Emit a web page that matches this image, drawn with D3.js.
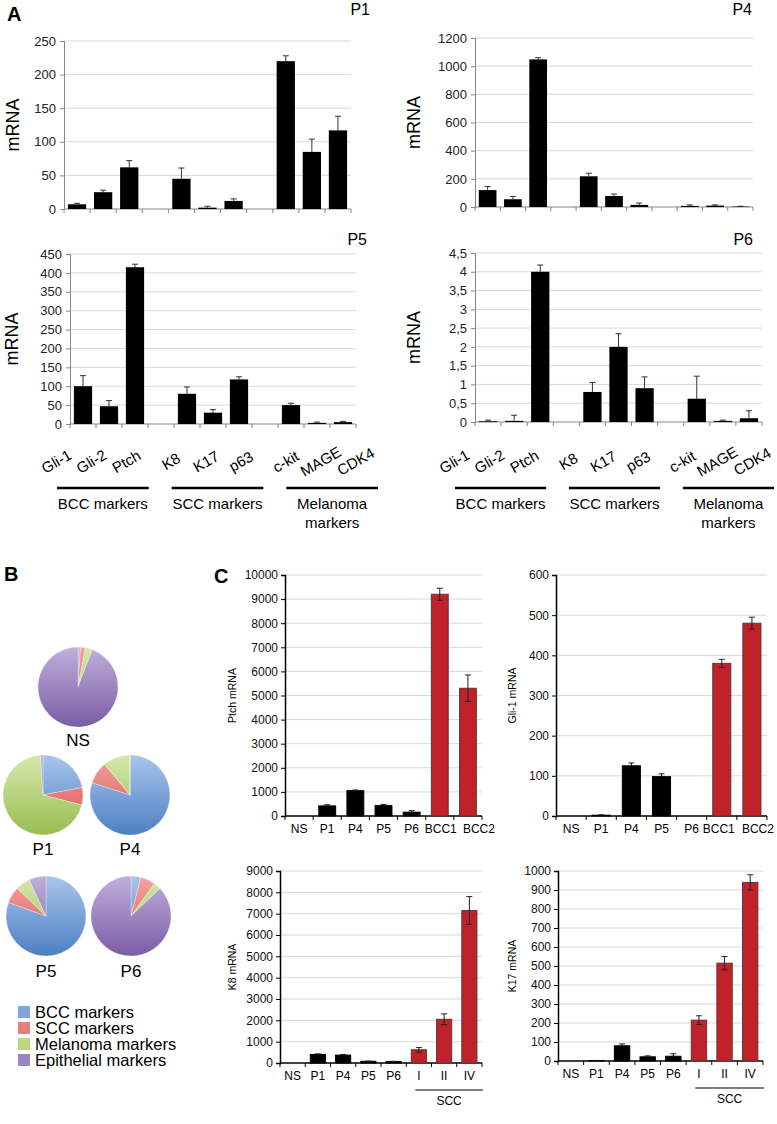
<!DOCTYPE html>
<html><head><meta charset="utf-8">
<script src="https://cdn.jsdelivr.net/npm/d3@7"></script>
<style>body{margin:0;background:#fff} svg{display:block;font-family:"Liberation Sans",Arial,sans-serif}</style>
</head><body><svg id="c" width="777" height="1124"></svg>
<script>
// ---------- DATA ----------
// Panel A
const slotsA = ["Gli-1","Gli-2","Ptch","gap1","K8","K17","p63","gap2","c-kit","MAGE","CDK4"];
const genesA = ["Gli-1","Gli-2","Ptch","K8","K17","p63","c-kit","MAGE","CDK4"];
const groupsA = ["BCC markers","SCC markers","Melanoma markers"];
const groupGenes = [["Gli-1","Gli-2","Ptch"],["K8","K17","p63"],["c-kit","MAGE","CDK4"]];
const p1Values = [7,25,62,45,2,12,220,85,117];
const p1Errors = [1.5,3,10,16,2,3,8,19,21];
const p1Ticks = [0,50,100,150,200,250];
const p4Values = [120,55,1048,218,78,15,8,10,3];
const p4Errors = [25,20,12,22,14,13,7,5,2];
const p4Ticks = [0,200,400,600,800,1000,1200];
const p5Values = [100,47,415,80,30,118,50,3,5];
const p5Errors = [28,15,8,18,8,7,5,2,2];
const p5Ticks = [0,50,100,150,200,250,300,350,400,450];
const p6Values = [0.02,0.03,4.0,0.8,2.0,0.9,0.62,0.03,0.1];
const p6Errors = [0.03,0.15,0.18,0.25,0.35,0.3,0.6,0.02,0.2];
const p6Ticks = [0,0.5,1,1.5,2,2.5,3,3.5,4,4.5];

// Panel B
const pieGroups = ["BCC markers","SCC markers","Melanoma markers","Epithelial markers"];
const pieSamples = ["NS","P1","P4","P5","P6"];
const nsShares = [1,2,2.8,94.2];
const p1Shares = [22,7,70,1];
const p4Shares = [80,9,11,0];
const p5Shares = [80.5,6.7,5.9,6.9];
const p6Shares = [4,6,3,87];

// Panel C
const bccCats = ["NS","P1","P4","P5","P6","BCC1","BCC2"];
const sccCats = ["NS","P1","P4","P5","P6","I","II","IV"];
const tumorCats = ["BCC1","BCC2","I","II","IV"];
const ptchValues = [0,420,1050,430,160,9200,5300];
const ptchErrors = [0,50,30,50,60,250,550];
const ptchTicks = [0,1000,2000,3000,4000,5000,6000,7000,8000,9000,10000];
const gli1Values = [0,2,125,98,0,380,480];
const gli1Errors = [0,1,7,7,0,10,15];
const gli1Ticks = [0,100,200,300,400,500,600];
const k8Values = [0,400,370,80,70,620,2050,7150];
const k8Errors = [0,30,30,10,10,110,250,650];
const k8Ticks = [0,1000,2000,3000,4000,5000,6000,7000,8000,9000];
const k17Values = [0,2,80,22,25,215,515,940];
const k17Errors = [0,1,10,5,13,23,35,40];
const k17Ticks = [0,100,200,300,400,500,600,700,800,900,1000];

// ---------- DRAW ----------
const svg = d3.select("#c");
const FONT = "'Liberation Sans', Arial, sans-serif";

function letter(t,x,y){svg.append("text").attr("x",x).attr("y",y).attr("font-size",20).attr("font-weight","bold").text(t);}
letter("A",7,21); letter("B",4,581); letter("C",214,583);

function commaFmt(d){return String(d).replace(".",",");}

function chartA(c){
  const g = svg.append("g");
  const x = d3.scaleBand().domain(slotsA).range([c.x0,c.x1]).paddingInner(0.3).paddingOuter(0.15);
  const y = d3.scaleLinear().domain([0,c.ticks[c.ticks.length-1]]).range([c.y0,c.yTop]);
  g.selectAll(".gl").data(c.ticks.filter(t=>t>0)).join("line")
    .attr("x1",c.x0).attr("x2",c.x1).attr("y1",d=>y(d)).attr("y2",d=>y(d))
    .attr("stroke","#d9d9d9").attr("stroke-width",1);
  const ax = g.append("g").attr("transform",`translate(${c.x0},0)`)
    .call(d3.axisLeft(y).tickValues(c.ticks).tickSize(4).tickPadding(4).tickFormat(c.fmt||(d=>d)));
  ax.select(".domain").attr("stroke","#868686");
  ax.selectAll(".tick line").attr("stroke","#868686");
  ax.selectAll("text").attr("font-size",13).attr("font-family",FONT).attr("fill","#222");
  g.append("line").attr("x1",c.x0).attr("x2",c.x1).attr("y1",c.y0).attr("y2",c.y0).attr("stroke","#868686");
  const half=(x.step()-x.bandwidth())/2;
  const bounds = slotsA.map(s=>x(s)-half).concat([x(slotsA[slotsA.length-1])+x.bandwidth()+half]);
  g.selectAll(".bt").data(bounds).join("line").attr("x1",d=>d).attr("x2",d=>d)
    .attr("y1",c.y0).attr("y2",c.y0+4).attr("stroke","#868686");
  const data = genesA.map((k,i)=>({k,v:c.values[i],e:c.errors[i]}));
  g.selectAll(".err").data(data).join("line")
    .attr("x1",d=>x(d.k)+x.bandwidth()/2).attr("x2",d=>x(d.k)+x.bandwidth()/2)
    .attr("y1",d=>y(d.v)).attr("y2",d=>y(d.v+d.e)).attr("stroke","#333");
  g.selectAll(".cap").data(data).join("line")
    .attr("x1",d=>x(d.k)+x.bandwidth()/2-3).attr("x2",d=>x(d.k)+x.bandwidth()/2+3)
    .attr("y1",d=>y(d.v+d.e)).attr("y2",d=>y(d.v+d.e)).attr("stroke","#333");
  g.selectAll(".bar").data(data).join("rect")
    .attr("x",d=>x(d.k)).attr("width",x.bandwidth())
    .attr("y",d=>y(d.v)).attr("height",d=>c.y0-y(d.v)).attr("fill","#000");
  g.append("text").attr("x",c.titleX).attr("y",c.titleY).attr("font-size",16).attr("text-anchor","end").text(c.title);
  g.append("text").attr("transform",`translate(${c.labX},${(c.y0+c.yTop)/2}) rotate(-90)`)
    .attr("text-anchor","middle").attr("font-size",18).text("mRNA");
}
chartA({values:p1Values,errors:p1Errors,ticks:p1Ticks,x0:64,x1:351,yTop:41,y0:209,title:"P1",titleX:370,titleY:15,labX:19});
chartA({values:p4Values,errors:p4Errors,ticks:p4Ticks,x0:475,x1:753,yTop:38,y0:207,title:"P4",titleX:752,titleY:15,labX:420});
chartA({values:p5Values,errors:p5Errors,ticks:p5Ticks,x0:70,x1:356,yTop:254,y0:424,title:"P5",titleX:367,titleY:245,labX:18,});
chartA({values:p6Values,errors:p6Errors,ticks:p6Ticks,fmt:commaFmt,x0:475,x1:762,yTop:253,y0:422,title:"P6",titleX:753,titleY:245,labX:420});

function groupLabels(x0,x1){
  const gs = d3.scaleBand().domain(groupsA).range([x0,x1]).paddingInner(0.2);
  const g = svg.append("g");
  groupsA.forEach((gr,i)=>{
    const s = gs(gr), w = gs.bandwidth();
    const p = d3.scalePoint().domain(groupGenes[i]).range([s+2,s+72]);
    groupGenes[i].forEach(gn=>{
      g.append("text").attr("transform",`translate(${p(gn)},${466}) rotate(-30)`)
        .attr("text-anchor","middle").attr("font-size",15).text(gn);
    });
    g.append("line").attr("x1",s).attr("x2",s+w).attr("y1",488).attr("y2",488).attr("stroke","#000").attr("stroke-width",2.5);
    const words = gr==="Melanoma markers"?["Melanoma","markers"]:[gr];
    words.forEach((wd,j)=>g.append("text").attr("x",s+w/2).attr("y",509+j*19).attr("text-anchor","middle").attr("font-size",15).text(wd));
  });
}
groupLabels(57,378);
groupLabels(455,774);

// ---------- Panel B pies ----------
const pieColors = [["#a9c5ec","#4d7fc3"],["#f4a6a4","#d84d4b"],["#d6e8ad","#98bd4f"],["#c0afda","#7b5ca6"]];
const legendColors = ["#7ea6dc","#ea7e7e","#bcd882","#9d84c4"];
const defs = svg.append("defs");
const pieLayout = [
  {shares:nsShares,cx:78,cy:687,ly:746},
  {shares:p1Shares,cx:43,cy:795,ly:855},
  {shares:p4Shares,cx:130,cy:795,ly:855},
  {shares:p5Shares,cx:46,cy:916,ly:977},
  {shares:p6Shares,cx:131,cy:916,ly:977}
];
pieColors.forEach((c,k)=>{
  const lg = defs.append("linearGradient").attr("id",`pp${k}`).attr("gradientUnits","userSpaceOnUse")
    .attr("x1",0).attr("y1",-40).attr("x2",0).attr("y2",40);
  lg.append("stop").attr("offset","0%").attr("stop-color",c[0]);
  lg.append("stop").attr("offset","100%").attr("stop-color",c[1]);
});
const pie = d3.pie().sort(null).value(d=>d);
const arc = d3.arc().innerRadius(0).outerRadius(40);
pieLayout.forEach((p,i)=>{
  const g = svg.append("g").attr("transform",`translate(${p.cx},${p.cy})`);
  g.selectAll("path").data(pie(p.shares)).join("path")
    .attr("d",arc).attr("fill",(d,k)=>`url(#pp${k})`)
    .attr("stroke","#fff").attr("stroke-width",0.3);
  svg.append("text").attr("x",p.cx).attr("y",p.ly).attr("text-anchor","middle").attr("font-size",17).text(pieSamples[i]);
});

const leg = svg.append("g");
pieGroups.forEach((t,i)=>{
  leg.append("rect").attr("x",18).attr("y",1006+i*16).attr("width",12).attr("height",12).attr("fill",legendColors[i]);
  leg.append("text").attr("x",35).attr("y",1018+i*16).attr("font-size",16.5).text(t);
});

// ---------- Panel C ----------
function chartC(c){
  const g = svg.append("g");
  const x = d3.scaleBand().domain(c.cats).range([c.x0,c.x1]).paddingInner(0.4).paddingOuter(0.2);
  const y = d3.scaleLinear().domain([0,c.ticks[c.ticks.length-1]]).range([c.y0,c.yTop]);
  g.selectAll(".gl").data(c.ticks.filter(t=>t>0)).join("line")
    .attr("x1",c.x0).attr("x2",c.x1).attr("y1",d=>y(d)).attr("y2",d=>y(d))
    .attr("stroke","#d9d9d9");
  const ax = g.append("g").attr("transform",`translate(${c.x0},0)`)
    .call(d3.axisLeft(y).tickValues(c.ticks).tickSize(4).tickPadding(3).tickFormat(d3.format("d")));
  ax.select(".domain").attr("stroke","#000").attr("stroke-width",1.5);
  ax.selectAll(".tick line").attr("stroke","#000");
  ax.selectAll("text").attr("font-size",12).attr("font-family",FONT).attr("fill","#111");
  g.append("line").attr("x1",c.x0).attr("x2",c.x1).attr("y1",c.y0).attr("y2",c.y0).attr("stroke","#000").attr("stroke-width",1.5);
  const half=(x.step()-x.bandwidth())/2;
  const bounds = c.cats.map(s=>x(s)-half).concat([x(c.cats[c.cats.length-1])+x.bandwidth()+half]);
  g.selectAll(".bt").data(bounds).join("line").attr("x1",d=>d).attr("x2",d=>d)
    .attr("y1",c.y0).attr("y2",c.y0+4).attr("stroke","#000");
  const data = c.cats.map((k,i)=>({k,v:c.values[i],e:c.errors[i],t:tumorCats.includes(k)}));
  g.selectAll(".bar").data(data.filter(d=>d.v>0)).join("rect")
    .attr("x",d=>x(d.k)).attr("width",x.bandwidth())
    .attr("y",d=>y(d.v)).attr("height",d=>c.y0-y(d.v))
    .attr("fill",d=>d.t?"#c1222a":"#000").attr("stroke",d=>d.t?"#5a3a3a":"#000").attr("stroke-width",1);
  const ed = data.filter(d=>d.e>0);
  const cx = d=>x(d.k)+x.bandwidth()/2;
  g.selectAll(".err").data(ed).join("line")
    .attr("x1",cx).attr("x2",cx).attr("y1",d=>y(d.t?d.v-d.e:d.v)).attr("y2",d=>y(d.v+d.e))
    .attr("stroke",d=>d.t?"#222":"#000");
  g.selectAll(".capt").data(ed).join("line")
    .attr("x1",d=>cx(d)-3).attr("x2",d=>cx(d)+3).attr("y1",d=>y(d.v+d.e)).attr("y2",d=>y(d.v+d.e)).attr("stroke","#222");
  g.selectAll(".capb").data(ed.filter(d=>d.t)).join("line")
    .attr("x1",d=>cx(d)-3).attr("x2",d=>cx(d)+3).attr("y1",d=>y(d.v-d.e)).attr("y2",d=>y(d.v-d.e)).attr("stroke","#222");
  const n = c.cats.length;
  g.selectAll(".cl").data(c.cats).join("text")
    .attr("x",(d,i)=>x(d)+x.bandwidth()/2+(i===n-1?(c.lastShift||0):0)+(i===n-2?(c.prevShift||0):0))
    .attr("y",c.y0+17).attr("text-anchor","middle").attr("font-size",12).text(d=>d);
  g.append("text").attr("transform",`translate(${c.labX},${(c.y0+c.yTop)/2}) rotate(-90)`)
    .attr("text-anchor","middle").attr("font-size",10.5).text(c.label);
  if(c.scc){
    const i0 = x("I"), i1 = x("IV")+x.bandwidth();
    g.append("line").attr("x1",i0+4).attr("x2",i1+6).attr("y1",c.y0+27).attr("y2",c.y0+27).attr("stroke","#000");
    g.append("text").attr("x",(i0+i1)/2+5).attr("y",c.y0+42).attr("text-anchor","middle").attr("font-size",12).text("SCC");
  }
}
chartC({cats:bccCats,values:ptchValues,errors:ptchErrors,ticks:ptchTicks,x0:285,x1:482,yTop:575,y0:816,labX:236,label:"Ptch mRNA",lastShift:11,prevShift:1});
chartC({cats:bccCats,values:gli1Values,errors:gli1Errors,ticks:gli1Ticks,x0:556,x1:767,yTop:575,y0:816,labX:516,label:"Gli-1 mRNA",lastShift:6,prevShift:-3});
chartC({cats:sccCats,values:k8Values,errors:k8Errors,ticks:k8Ticks,x0:280,x1:482,yTop:871,y0:1063,labX:236,label:"K8 mRNA",scc:true});
chartC({cats:sccCats,values:k17Values,errors:k17Errors,ticks:k17Ticks,x0:558,x1:763,yTop:871,y0:1061,labX:516,label:"K17 mRNA",scc:true});
</script></body></html>
